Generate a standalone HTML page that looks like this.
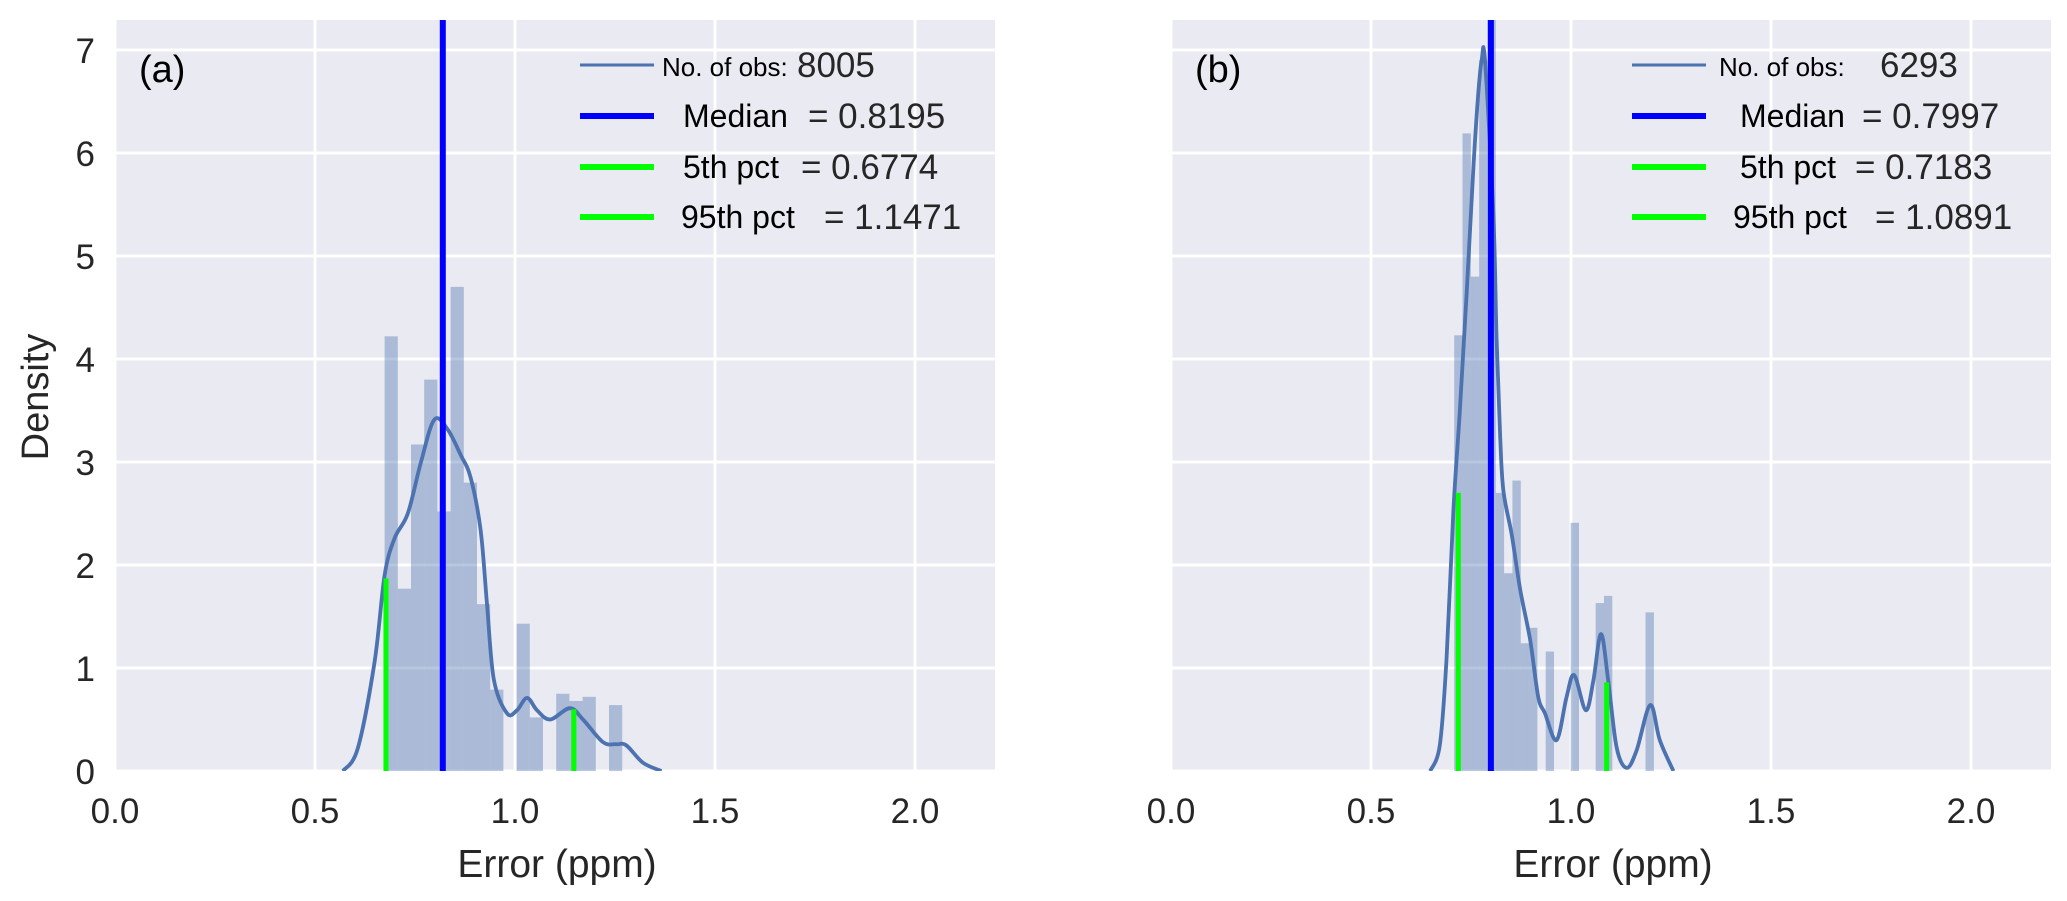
<!DOCTYPE html>
<html><head><meta charset="utf-8"><style>
html,body{margin:0;padding:0;background:#fff;}
svg{display:block;font-family:"Liberation Sans",Arial,sans-serif;}
</style></head><body>
<svg id="chart" width="2067" height="901" viewBox="0 0 2067 901" xmlns="http://www.w3.org/2000/svg"></svg>
<script>
// ---- data ----
const xTicks = [0.0, 0.5, 1.0, 1.5, 2.0];
const xTickLabels = ["0.0", "0.5", "1.0", "1.5", "2.0"];
const yTicks = [0, 1, 2, 3, 4, 5, 6, 7];
const yTickLabels = ["0", "1", "2", "3", "4", "5", "6", "7"];

const aBinStart = 0.674;
const aBinWidth = 0.033;
const aHeights = [4.22,1.77,3.17,3.8,2.52,4.7,2.8,1.62,0.79,0,1.43,0.52,0,0.75,0.68,0.72,0,0.64];
const aKdeX = [0.57,0.607,0.649,0.674,0.699,0.732,0.765,0.798,0.831,0.864,0.889,0.914,0.93,0.947,0.98,1.005,1.03,1.055,1.088,1.137,1.17,1.22,1.253,1.278,1.32,1.366];
const aKdeY = [0,0.22,1.06,1.9,2.26,2.5,3.0,3.41,3.32,3.07,2.85,2.34,1.62,0.89,0.56,0.59,0.71,0.59,0.5,0.61,0.5,0.28,0.26,0.25,0.08,0];
const aMedian = 0.8195, aP5 = 0.6774, aP95 = 1.1471;
const aP5H = 1.87, aP95H = 0.6;

const bBinStart = 0.708;
const bBinWidth = 0.0208;
const bHeights = [4.23,6.19,4.8,6.9,7.5,2.7,1.92,2.82,1.24,1.39,0,1.16,0,0,2.41,0,0,1.63,1.70,0,0,0,0,1.54];
const bKdeX = [0.648,0.672,0.689,0.706,0.722,0.739,0.756,0.768,0.777,0.785,0.806,0.814,0.823,0.831,0.852,0.873,0.898,0.918,0.935,0.964,0.989,1.008,1.037,1.056,1.075,1.093,1.114,1.139,1.164,1.198,1.222,1.256];
const bKdeY = [0,0.25,1.1,2.53,3.49,4.63,5.86,6.57,6.91,6.9,5.39,4.19,3.24,2.72,2.29,1.76,1.27,0.72,0.56,0.3,0.72,0.93,0.59,0.88,1.33,0.88,0.23,0.03,0.2,0.64,0.3,0];
const bMedian = 0.7997, bP5 = 0.7183, bP95 = 1.0891;
const bP5H = 2.7, bP95H = 0.86;

const svg = document.getElementById('chart');
const NS = 'http://www.w3.org/2000/svg';
function mk(tag, attrs, parent){
  const e = document.createElementNS(NS, tag);
  for (const k in attrs) e.setAttribute(k, attrs[k]);
  (parent||svg).appendChild(e);
  return e;
}
function smoothPath(pts){
  let d = 'M' + pts[0][0] + ',' + pts[0][1];
  for (let i=0;i<pts.length-1;i++){
    const p0 = pts[i-1]||pts[i], p1 = pts[i], p2 = pts[i+1], p3 = pts[i+2]||p2;
    const c1x = p1[0]+(p2[0]-p0[0])/6, c1y = p1[1]+(p2[1]-p0[1])/6;
    const c2x = p2[0]-(p3[0]-p1[0])/6, c2y = p2[1]-(p3[1]-p1[1])/6;
    d += ' C'+c1x+','+c1y+' '+c2x+','+c2y+' '+p2[0]+','+p2[1];
  }
  return d;
}

function panel(cfg){
  const L = cfg.left, R = cfg.left + 880, T = 20, B = 771;
  const xs = v => L + v*400;
  const ys = v => B - v*103;
  const g = mk('g', {});
  
  
  const clipId = 'clip-' + cfg.name;
  const cp = mk('clipPath', {id: clipId}, g);
  mk('rect', {x:L, y:T, width:R-L, height:B-T}, cp);
  const bg = mk('rect', {x:L, y:T, width:R-L, height:B-T, fill:'#EAEAF2'}, g);
  
  
  xTicks.forEach((t,i)=>{
    const gl = mk('line', {x1:xs(t), x2:xs(t), y1:T, y2:B, stroke:'#fff', 'stroke-width':3}, g);
    
    
    const tl = mk('text', {x:xs(t), y:823, 'font-size':35, 'text-anchor':'middle', fill:'#262626'}, g);
    tl.textContent = xTickLabels[i];
    
    
  });
  yTicks.forEach((t,i)=>{
    const gl = mk('line', {x1:L, x2:R, y1:ys(t), y2:ys(t), stroke:'#fff', 'stroke-width':3}, g);
    
    
    if (cfg.yLabels){
      const tl = mk('text', {x:95, y:ys(t)+13, 'font-size':35, 'text-anchor':'end', fill:'#262626'}, g);
      tl.textContent = yTickLabels[i];
      
      
    }
  });
  const marks = mk('g', {'clip-path':'url(#'+clipId+')'}, g);
  cfg.heights.forEach((h,i)=>{
    if (h<=0) return;
    const x0 = cfg.binStart + i*cfg.binWidth;
    const r = mk('rect', {x:xs(x0), y:ys(h), width:xs(x0+cfg.binWidth)-xs(x0), height:ys(0)-ys(h), fill:'#4C72B0', 'fill-opacity':0.4}, marks);
    
    
  });
  const pts = cfg.kdeX.map((x,i)=>[xs(x), ys(cfg.kdeY[i])]);
  const kde = mk('path', {d:smoothPath(pts), fill:'none', stroke:'#4C72B0', 'stroke-width':3.8}, marks);
  
  
  const med = mk('line', {x1:xs(cfg.median), x2:xs(cfg.median), y1:T, y2:B, stroke:'#0000FF', 'stroke-width':6}, marks);
  
  
  const p5 = mk('line', {x1:xs(cfg.p5), x2:xs(cfg.p5), y1:ys(cfg.p5h), y2:B, stroke:'#00FF00', 'stroke-width':5}, marks);
  
  
  const p95 = mk('line', {x1:xs(cfg.p95), x2:xs(cfg.p95), y1:ys(cfg.p95h), y2:B, stroke:'#00FF00', 'stroke-width':5}, marks);
  
  

  const pl = mk('text', {x:cfg.left+24, y:82, 'font-size':38, fill:'#000'}, g);
  pl.textContent = cfg.tag;
  
  

  const xl = mk('text', {x:cfg.titleX, y:877, 'font-size':39, 'text-anchor':'middle', fill:'#262626'}, g);
  xl.textContent = 'Error (ppm)';
  
  

  // legend
  const lg = mk('g', {}, g);
  
  
  const lx = cfg.legX;
  const rows = [
    {y:65, color:'#4C72B0', w:3, t1:'No. of obs:', t1x:cfg.t[0], t2:cfg.n, t2x:cfg.t[1], small:true},
    {y:116, color:'#0000FF', w:6, t1:'Median', t1x:cfg.t[2], t2:'= '+cfg.median.toFixed(4), t2x:cfg.t[3]},
    {y:167, color:'#00FF00', w:6, t1:'5th pct', t1x:cfg.t[4], t2:'= '+cfg.p5.toFixed(4), t2x:cfg.t[5]},
    {y:217, color:'#00FF00', w:6, t1:'95th pct', t1x:cfg.t[6], t2:'= '+cfg.p95.toFixed(4), t2x:cfg.t[7]}
  ];
  rows.forEach(r=>{
    const ln = mk('line', {x1:lx, x2:lx+74, y1:r.y, y2:r.y, stroke:r.color, 'stroke-width':r.w}, lg);
    
    
    const a = mk('text', {x:r.t1x, y:r.y+11, 'font-size':r.small?26:32, fill:'#000'}, lg);
    a.textContent = r.t1;
    
    
    const b = mk('text', {x:r.t2x, y:r.y+12, 'font-size':35, fill:'#262626'}, lg);
    b.textContent = r.t2;
    
    
  });
}

panel({name:'panel-a', tag:'(a)', left:115, yLabels:true, binStart:aBinStart, binWidth:aBinWidth, heights:aHeights,
  kdeX:aKdeX, kdeY:aKdeY, median:aMedian, p5:aP5, p95:aP95, p5h:aP5H, p95h:aP95H,
  legX:580, n:'8005', titleX:557, t:[662,797,683,808,683,801,681,824]});
panel({name:'panel-b', tag:'(b)', left:1171, yLabels:false, binStart:bBinStart, binWidth:bBinWidth, heights:bHeights,
  kdeX:bKdeX, kdeY:bKdeY, median:bMedian, p5:bP5, p95:bP95, p5h:bP5H, p95h:bP95H,
  legX:1632, n:'6293', titleX:1613, t:[1719,1880,1740,1862,1740,1855,1733,1875]});

const yt = mk('text', {x:0, y:0, 'font-size':38, 'text-anchor':'middle', fill:'#262626', transform:'translate(48,397) rotate(-90)'});
yt.textContent = 'Density';


</script>
</body></html>
